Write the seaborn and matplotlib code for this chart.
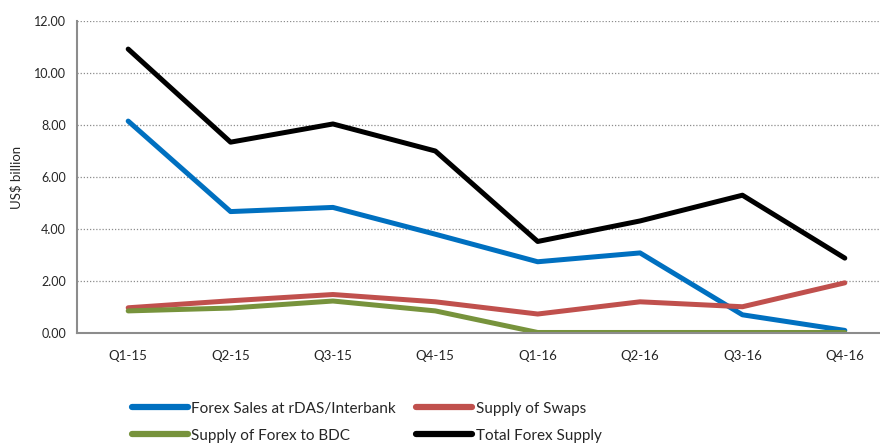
import pandas as pd
import numpy as np
import matplotlib.pyplot as plt
import seaborn as sns
from matplotlib.ticker import FixedLocator

sns.set_style("white")
plt.rcParams['font.family'] = ['Lato', 'DejaVu Sans']

# data
quarters = ["Q1-15", "Q2-15", "Q3-15", "Q4-15", "Q1-16", "Q2-16", "Q3-16", "Q4-16"]
forex_sales = [8.15, 4.67, 4.83, 3.80, 2.74, 3.08, 0.70, 0.10]
swaps = [0.97, 1.24, 1.48, 1.20, 0.73, 1.20, 1.01, 1.93]
bdc = [0.85, 0.96, 1.23, 0.85, 0.02, 0.02, 0.02, 0.02]
total = [10.92, 7.34, 8.04, 7.00, 3.52, 4.31, 5.30, 2.88]

series = {
    "Forex Sales at rDAS/Interbank": forex_sales,
    "Supply of Swaps": swaps,
    "Supply of Forex to BDC": bdc,
    "Total Forex Supply": total,
}
colors = {
    "Forex Sales at rDAS/Interbank": "#0070C0",
    "Supply of Swaps": "#C0504D",
    "Supply of Forex to BDC": "#77933C",
    "Total Forex Supply": "#000000",
}

rows = []
for name, vals in series.items():
    for i, (q, v) in enumerate(zip(quarters, vals)):
        rows.append({"pos": i, "quarter": q, "series": name, "value": v})
df = pd.DataFrame(rows)

fig = plt.figure(figsize=(8.8, 4.46), dpi=100)
ax = fig.add_axes([77 / 880, 1 - 333 / 446, 819 / 880, 312 / 446])

sns.lineplot(
    data=df, x="pos", y="value", hue="series",
    palette=colors, linewidth=3.6, ax=ax, legend=False,
    solid_capstyle="round", sort=False,
)

ax.set_xlim(-0.5, 7.5)
ax.set_ylim(0, 12)
ax.set_yticks(np.arange(0, 12.1, 2))
ax.set_yticklabels([f"{v:.2f}" for v in np.arange(0, 12.1, 2)], fontsize=9)
ax.set_xticks(range(len(quarters)))
ax.set_xticklabels(quarters, fontsize=9.5)
ax.xaxis.set_minor_locator(FixedLocator(np.arange(-0.5, 8, 1)))
ax.tick_params(axis="x", which="major", length=0, pad=12)
ax.tick_params(axis="x", which="minor", length=4, color="#888888", direction="out")
ax.tick_params(axis="y", length=4, color="#888888", direction="out", pad=4)
ax.set_xlabel("")
ax.set_ylabel("US$ billion", fontsize=9.5, labelpad=8)

ax.yaxis.grid(True, linestyle=(0, (1, 1.5)), color="#8c8c8c", linewidth=0.9)
ax.set_axisbelow(True)
for s in ["top", "right"]:
    ax.spines[s].set_visible(False)
for s in ["left", "bottom"]:
    ax.spines[s].set_color("#8c8c8c")
    ax.spines[s].set_linewidth(1.5)

order = ["Forex Sales at rDAS/Interbank", "Supply of Forex to BDC",
         "Supply of Swaps", "Total Forex Supply"]
handles = [plt.Line2D([], [], color=colors[n], linewidth=4.5, solid_capstyle="round")
           for n in order]
fig.legend(handles, order, loc="upper left", bbox_to_anchor=(118 / 880, 1 - 388 / 446),
           ncol=2, frameon=False, fontsize=11, handlelength=3.7, handletextpad=0.2,
           columnspacing=1.3, labelspacing=0.85)

fig.savefig("out.png", dpi=100)
